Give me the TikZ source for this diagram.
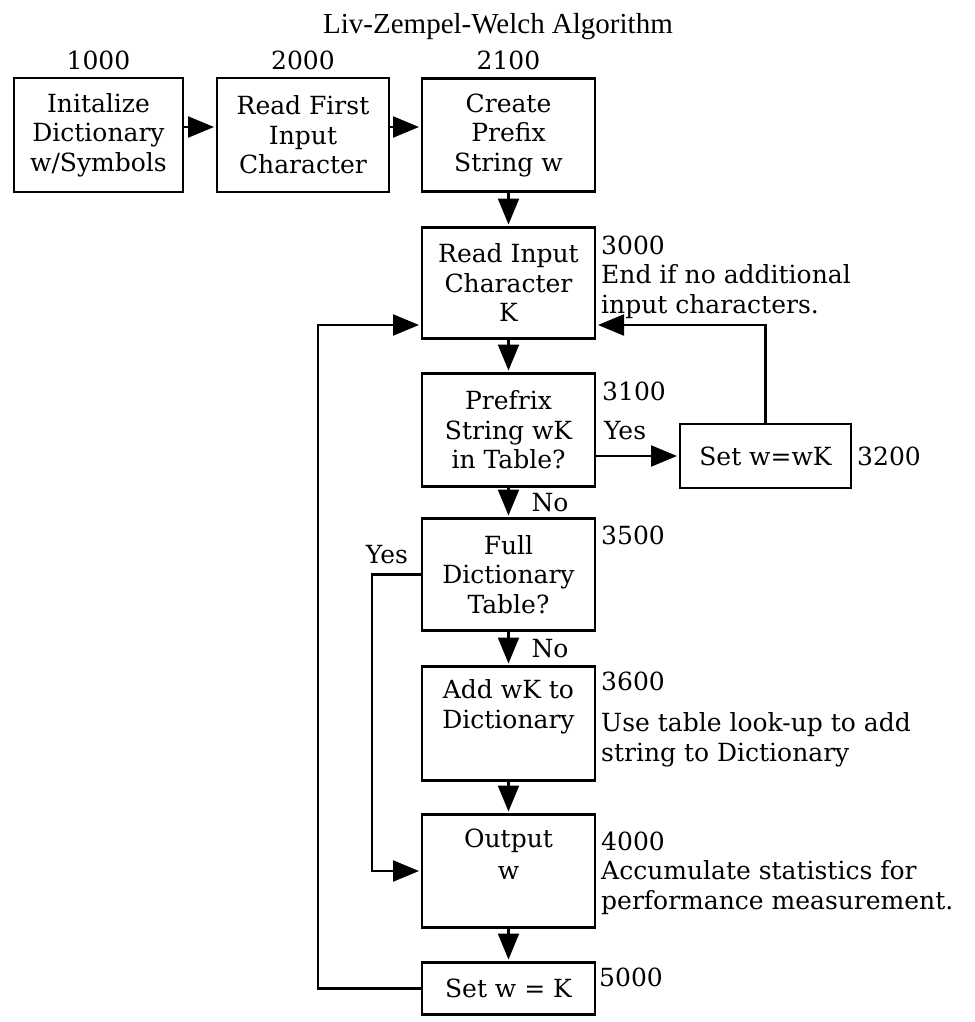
\documentclass[tikz,border=0pt]{standalone}
\usepackage{fontspec}
\setmainfont{DejaVu Serif}
\newfontfamily\titlefont{Liberation Serif}
\usetikzlibrary{arrows.meta, positioning}
\newcommand{\boxfont}{\fontsize{25}{29.5}\selectfont}
\tikzset{
  % Process box
  stepbox/.style={
    rectangle, draw=black, line width=2.4pt,
    align=center, inner sep=0pt, outer sep=0pt,
    minimum width=173pt, minimum height=113pt,
    font=\boxfont
  },
  % Step numbers and side notes
  note/.style={
    inner sep=0pt, align=left, font=\boxfont
  },
  % Arrow style
  arrow/.style={
    -{Triangle[length=26pt,width=21pt]}, line width=2.2pt,
    draw=black, shorten >=3pt
  }
}

\begin{document}
\begin{tikzpicture}[x=1pt, y=-1pt]
\useasboundingbox (0,0) rectangle (974,1022);

\node[font=\titlefont\fontsize{29}{34}\selectfont, inner sep=0pt] (title)
  at (498,27) {Liv-Zempel-Welch Algorithm};

% ── top row ─────────────────────────────
\node[stepbox, minimum width=169pt, minimum height=114pt] (init_dict)
  at (98.5,135) {Initalize\\Dictionary\\w/Symbols};
\node[stepbox, minimum width=172pt, minimum height=114pt,
      right=34pt of init_dict] (read_first) {Read First\\Input\\Character};
\node[stepbox, right=33pt of read_first] (prefix_w)
  {Create\\Prefix\\String w};

\node[note, above=8pt of init_dict] (n1000) {1000};
\node[note, above=8pt of read_first] (n2000) {2000};
\node[note, above=8pt of prefix_w] (n2100) {2100};

% ── main loop ───────────────────────────
\node[stepbox, minimum height=111pt, below=36pt of prefix_w] (read_k)
  {Read Input\\Character\\K};
\node[note, anchor=north west] (n3000)
  at ([xshift=6pt, yshift=-8pt]read_k.north east)
  {3000\\End if no additional\\input characters.};

\node[stepbox, below=35pt of read_k] (in_table)
  {Prefrix\\String wK\\in Table?};
\node[note, anchor=north west] (n3100)
  at ([xshift=7pt, yshift=-8pt]in_table.north east) {3100};

\node[stepbox, minimum width=171pt, minimum height=64pt] (set_wk)
  at (765.5,456) {Set w=wK};
\node[note, anchor=west] (n3200) at ([xshift=6pt]set_wk.east) {3200};

\node[stepbox, minimum height=112pt, below=32pt of in_table] (full_dict)
  {Full\\Dictionary\\Table?};
\node[note, anchor=north west] (n3500)
  at ([xshift=6pt, yshift=-7pt]full_dict.north east) {3500};

\node[stepbox, minimum height=114pt, below=36pt of full_dict] (add_wk) {};
\node[note, align=center, below=13pt of add_wk.north] (add_wk_text)
  {Add wK to\\Dictionary};
\node[note, anchor=north west] (n3600)
  at ([xshift=6pt, yshift=-5pt]add_wk.north east)
  {3600\\[12pt]Use table look-up to add\\string to Dictionary};

\node[stepbox, below=34pt of add_wk] (output_w) {};
\node[note, align=center, below=14pt of output_w.north] (output_w_text)
  {Output\\[3pt]w};
\node[note, anchor=north west] (n4000)
  at ([xshift=6pt, yshift=-17pt]output_w.north east)
  {4000\\Accumulate statistics for\\performance measurement.};

\node[stepbox, minimum height=52pt, below=35pt of output_w] (set_k)
  {Set w = K};
\node[note, anchor=north west] (n5000)
  at ([xshift=4pt, yshift=-5pt]set_k.north east) {5000};

% ── connectors ──────────────────────────
\draw[arrow] ([yshift=8pt]init_dict.east) -- ([yshift=8pt]read_first.west);
\draw[arrow] ([yshift=8pt]read_first.east) -- ([yshift=8pt]prefix_w.west);
\draw[arrow] (prefix_w) -- (read_k);
\draw[arrow] (read_k)   -- (in_table);
\draw[arrow] (in_table.east |- set_wk.west)
  -- node[note, pos=0, anchor=base west, xshift=8pt, yshift=17pt] (yes_a) {Yes}
  (set_wk.west);
\draw[arrow] (set_wk.north) |- ([yshift=-42pt]read_k.east);
\draw[arrow] (in_table) -- node[note, anchor=west, xshift=22pt] (no_a) {No} (full_dict);
\draw[arrow] (full_dict.west)
  -- node[note, pos=0, anchor=base east, xshift=-13pt, yshift=11pt] (yes_b) {Yes}
  ++(-50,0) |- (output_w.west);
\draw[arrow] (full_dict) -- node[note, anchor=west, xshift=22pt] (no_b) {No} (add_wk);
\draw[arrow] (add_wk)   -- (output_w);
\draw[arrow] (output_w) -- (set_k);
\draw[arrow] (set_k.west) -- ++(-104,0) |- ([yshift=-42pt]read_k.west);

\end{tikzpicture}
\end{document}
